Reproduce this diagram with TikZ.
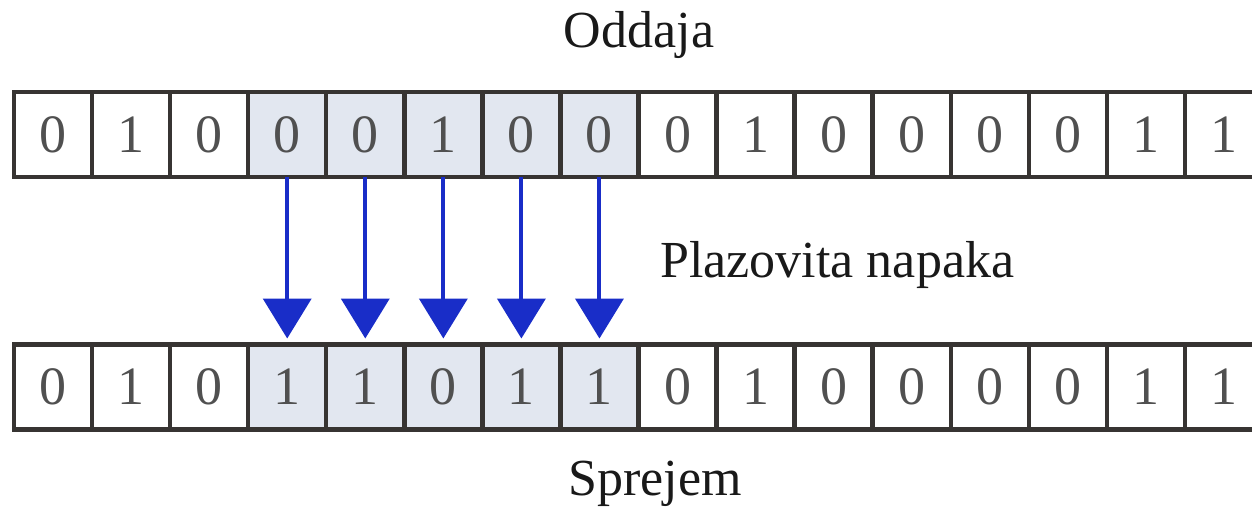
\documentclass[tikz,border=0pt]{standalone}
\usepackage{fontspec}
\setmainfont{Liberation Serif}
\usetikzlibrary{arrows.meta}
\definecolor{cellline}{RGB}{55,52,50}
\definecolor{cellfill}{RGB}{226,231,240}
\definecolor{arrowblue}{RGB}{25,45,200}
\definecolor{digitcol}{RGB}{80,80,80}
\tikzset{
  cell/.style={draw=cellline, line width=2.2pt, minimum width=39pt, minimum height=42.5pt,
    inner sep=0pt, outer sep=0pt, font=\fontsize{27}{30}\selectfont, text=digitcol},
  errcell/.style={cell, fill=cellfill},
  errarrow/.style={draw=arrowblue, line width=2pt,
    -{Triangle[width=24pt,length=20pt]}, shorten >=3pt},
  label/.style={font=\fontsize{26}{30}\selectfont, text=black!90}
}
\begin{document}
\begin{tikzpicture}[x=0.5pt,y=-0.5pt]
\useasboundingbox (0,0) rectangle (1252,510);
\clip (0,0) rectangle (1252,510);
\def\topbits{0,1,0,0,0,1,0,0,0,1,0,0,0,0,1,1}
\def\botbits{0,1,0,1,1,0,1,1,0,1,0,0,0,0,1,1}
\foreach \b [count=\i] in \topbits {
  \pgfmathsetmacro{\cx}{14+78.06*(\i-0.5)}
  \ifnum\i>3 \ifnum\i<9
    \node[errcell] (t\i) at (\cx,134.5) {\b};
  \else
    \node[cell] (t\i) at (\cx,134.5) {\b};
  \fi\else
    \node[cell] (t\i) at (\cx,134.5) {\b};
  \fi
}
\foreach \b [count=\i] in \botbits {
  \pgfmathsetmacro{\cx}{14+78.06*(\i-0.5)}
  \ifnum\i>3 \ifnum\i<9
    \node[errcell] (b\i) at (\cx,387) {\b};
  \else
    \node[cell] (b\i) at (\cx,387) {\b};
  \fi\else
    \node[cell] (b\i) at (\cx,387) {\b};
  \fi
}
\foreach \i in {4,...,8} {
  \draw[errarrow] (t\i.south) -- (b\i.north);
}
\node[label, anchor=base] (oddaja) at (639,47) {Oddaja};
\node[label, anchor=base west, inner sep=0pt] (napaka) at (660,277) {Plazovita napaka};
\node[label, anchor=base] (sprejem) at (655,495) {Sprejem};
\end{tikzpicture}
\end{document}
